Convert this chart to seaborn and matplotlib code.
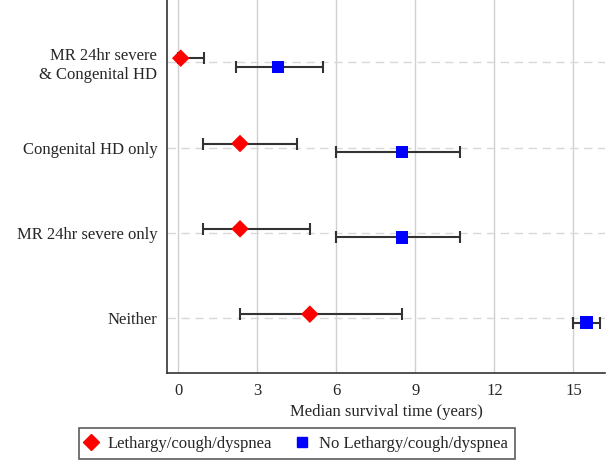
import matplotlib
matplotlib.use("Agg")
import matplotlib.pyplot as plt
import seaborn as sns
import pandas as pd
import numpy as np

categories = ["MR 24hr severe\n& Congenital HD", "Congenital HD only", "MR 24hr severe only", "Neither"]
groups = ["Lethargy/cough/dyspnea", "No Lethargy/cough/dyspnea"]
red_median = [0.1, 2.35, 2.35, 5.0]
red_lower = [0.0, 0.95, 0.95, 2.35]
red_upper = [1.0, 4.5, 5.0, 8.5]
blue_median = [3.8, 8.5, 8.5, 15.5]
blue_lower = [2.2, 6.0, 6.0, 15.0]
blue_upper = [5.5, 10.7, 10.7, 16.0]
xticks = [0, 3, 6, 9, 12, 15]

sns.set_style("white")
plt.rcParams['font.family'] = ['Liberation Serif', 'DejaVu Serif']

ypos = {c: 4 - i for i, c in enumerate(categories)}
offsets = {groups[0]: 0.05, groups[1]: -0.05}
rows = []
for i, c in enumerate(categories):
    rows.append(dict(cat=c, group=groups[0], med=red_median[i], lo=red_lower[i], hi=red_upper[i]))
    rows.append(dict(cat=c, group=groups[1], med=blue_median[i], lo=blue_lower[i], hi=blue_upper[i]))
df = pd.DataFrame(rows)
df["y"] = df["cat"].map(ypos) + df["group"].map(offsets)

fig = plt.figure(figsize=(6.1, 4.62), dpi=100)
ax = fig.add_axes([0.2738, 0.1926, 0.718, 0.807])

for x in xticks:
    ax.axvline(x, color="#d0d0d0", lw=1.0, zorder=0)
for c in categories:
    ax.axhline(ypos[c], color="#d8d8d8", lw=1.0, ls=(0, (6, 4)), zorder=0)

ax.errorbar(df["med"], df["y"], xerr=[df["med"] - df["lo"], df["hi"] - df["med"]],
            fmt="none", ecolor="#333333", elinewidth=1.5, capsize=4, capthick=1.5, zorder=2)

sns.scatterplot(data=df, x="med", y="y", hue="group", style="group",
                palette={groups[0]: "#ff0000", groups[1]: "#0000ff"},
                markers={groups[0]: "D", groups[1]: "s"},
                s=80, linewidth=0, ax=ax, zorder=3, legend=False)

ax.set_xlim(-0.42, 16.2)
ax.set_ylim(0.36, 4.73)
ax.set_xticks(xticks)
ax.set_xticklabels([str(x) for x in xticks], fontsize=12)
ax.set_yticks([4, 3, 2, 1, 0.5])
ax.set_yticklabels(categories + [""], fontsize=12, linespacing=1.25)
ax.tick_params(axis="both", direction="out", length=5, width=1, color="#333333", pad=2)
ax.set_xlabel("Median survival time (years)", fontsize=12, labelpad=4)
ax.set_ylabel("")
for s in ["top", "right"]:
    ax.spines[s].set_visible(False)
for s in ["left", "bottom"]:
    ax.spines[s].set_color("#333333")
    ax.spines[s].set_linewidth(1.2)

from matplotlib.lines import Line2D
handles = [Line2D([], [], marker="D", color="#ff0000", ls="none", markersize=8),
           Line2D([], [], marker="s", color="#0000ff", ls="none", markersize=7)]
leg = fig.legend(handles, groups, loc="center", bbox_to_anchor=(0.487, 0.0395), ncol=2,
                 frameon=True, fancybox=False, edgecolor="#333333", fontsize=12,
                 handlelength=0.6, handletextpad=0.7, columnspacing=1.5, borderpad=0.45)
leg.get_frame().set_linewidth(1.2)

fig.savefig("out.png", dpi=100)
